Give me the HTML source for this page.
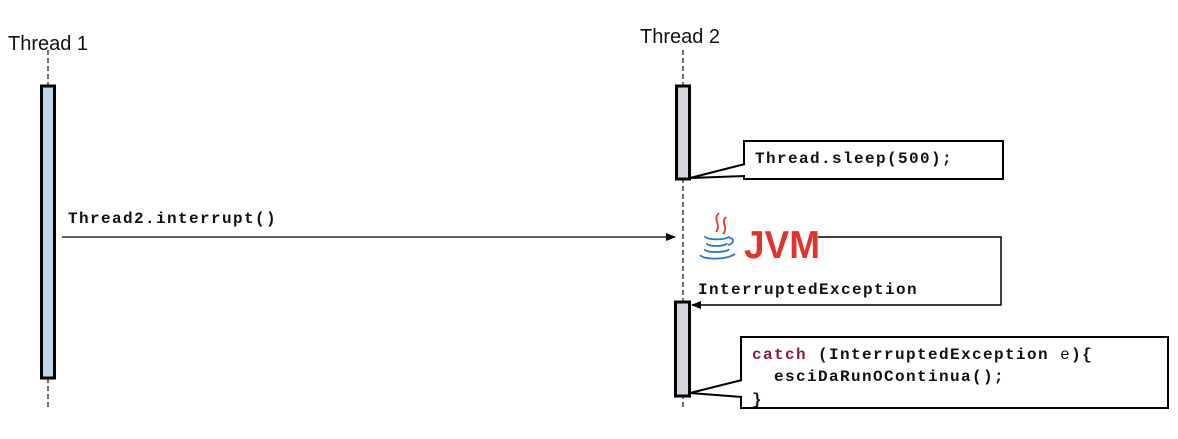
<!DOCTYPE html>
<html><head><meta charset="utf-8"><style>
html,body{margin:0;padding:0;background:#fff;}
svg{display:block;}
.m{font-family:"Liberation Mono","Courier New",monospace;font-weight:bold;font-size:16px;letter-spacing:1.4px;fill:#111;}
.s{font-family:"Liberation Sans",Arial,sans-serif;font-size:20px;fill:#111;}
</style></head><body>
<svg width="1178" height="439" viewBox="0 0 1178 439" xmlns="http://www.w3.org/2000/svg">
<defs><marker id="ah" markerWidth="10" markerHeight="8" refX="9" refY="4" orient="auto" markerUnits="userSpaceOnUse"><path d="M0,0 L10,4 L0,8 z" fill="#000"/></marker></defs>
<text class="s" x="8" y="50">Thread 1</text>
<text class="s" x="640" y="43">Thread 2</text>
<line x1="48" y1="50" x2="48" y2="410" stroke="#223" stroke-width="1.3" stroke-dasharray="5,3"/>
<line x1="683" y1="50" x2="683" y2="410" stroke="#223" stroke-width="1.3" stroke-dasharray="5,3"/>
<rect x="41.5" y="86" width="13" height="292" fill="#bfd6ec" stroke="#000" stroke-width="3"/>
<rect x="676.5" y="86" width="13" height="93" fill="#d6d3da" stroke="#000" stroke-width="3"/>
<rect x="675.5" y="302" width="14" height="94" fill="#d6d3da" stroke="#000" stroke-width="3"/>
<!-- note 1 -->
<rect x="744" y="141" width="259" height="38" fill="#fff" stroke="#000" stroke-width="2"/>
<path d="M745,164 L690,178 L745,176" fill="#fff" stroke="#000" stroke-width="2"/>
<text class="m" x="755" y="163">Thread.sleep(500);</text>
<!-- interrupt -->
<line x1="62" y1="237" x2="675" y2="237" stroke="#000" stroke-width="1.3" marker-end="url(#ah)"/>
<text class="m" x="68" y="223">Thread2.interrupt()</text>
<!-- JVM -->
<polyline points="818,237 1001,237 1001,305 692,305" fill="none" stroke="#000" stroke-width="1.5" marker-end="url(#ah)"/>
<g fill="none" stroke="#e2372b" stroke-width="1.8">
<path d="M719,213 C712,220 722,224 716,232"/>
<path d="M726,217 C720,223 729,227 723,234"/>
</g>
<g fill="none" stroke="#2a77c0" stroke-width="1.8">
<path d="M705,236 C704,240 728,241 729,236"/>
<path d="M707,243 C706,247 726,247 727,243"/>
<path d="M705,249 C703,253 728,253 729,249"/>
<path d="M700,255 C704,260 726,260 735,254"/>
<path d="M729,238 C735,238 734,244 728,245"/>
</g>
<text x="744" y="258" font-family="Liberation Sans,Arial,sans-serif" font-weight="bold" font-size="39" fill="#e0342b" textLength="76" lengthAdjust="spacingAndGlyphs">JVM</text>
<text class="m" x="698" y="294">InterruptedException</text>
<!-- catch note -->
<rect x="741" y="337" width="427" height="71" fill="#fff" stroke="#000" stroke-width="2"/>
<path d="M742,380 L690,393 L742,397" fill="#fff" stroke="#000" stroke-width="2"/>
<text class="m" x="752" y="359"><tspan fill="#8b1a4a">catch</tspan> (InterruptedException <tspan font-weight="normal">e</tspan>){</text>
<text class="m" x="774" y="381">esciDaRunOContinua();</text>
<text class="m" x="752" y="404">}</text>
</svg>
</body></html>
